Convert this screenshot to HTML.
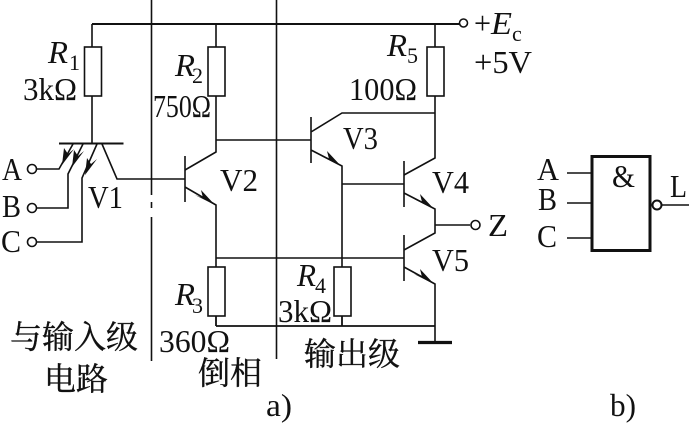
<!DOCTYPE html>
<html><head><meta charset="utf-8"><style>
html,body{margin:0;padding:0;background:#fff}
svg{display:block}
text{font-family:"Liberation Serif","Noto Serif CJK SC",serif;font-size:32px;fill:#111}
.i{font-style:italic}
.s{font-size:22px}
.c{font-size:32px;stroke:#111;stroke-width:.35}
</style></head><body>
<svg width="689" height="424" viewBox="0 0 689 424" xmlns="http://www.w3.org/2000/svg">
<g fill="none" stroke="#111" stroke-width="1.6">
<path d="M151.500 0V195M151.500 202V208M151.500 217V361M276.500 0V359"/>
<path d="M92 24H459" stroke-width="2"/>
<path d="M92 24V47M92 96V143M216 24V47M216 96V152L185 170M435 24V47M435 96V158L404 175"/>
<rect x="84.500" y="47" width="17" height="49"/>
<rect x="208" y="47" width="17" height="49"/>
<rect x="427" y="47" width="17" height="49"/>
<path d="M59 143.500H123.500" stroke-width="2"/>
<path d="M102 144L117 179H185M97 144L82 178V242H37M83 144L68 174V208H37M73 144L59 169H37"/>
<path d="M185 156V202M185 187L216 205V267M216 140H311M311 117V163M311 132L342 113H435M311 150L342 166V267M342 184H404M404 161V207M404 193L435 209V233L404 250M404 235V281M216 258H404M404 267L435 284V343M435 225H470"/>
<rect x="208" y="267" width="17" height="49"/>
<rect x="334" y="267" width="17" height="49"/>
<path d="M216 316V326M342 316V326M216 326H435" stroke-width="1.800"/>
<path d="M418 342.500H452" stroke-width="3.200"/>
<circle cx="463.500" cy="23" r="4"/><circle cx="32" cy="169" r="4.500"/><circle cx="32" cy="208" r="4.500"/><circle cx="32" cy="242" r="4.500"/><circle cx="475.500" cy="225" r="4.500"/>
<rect x="592" y="156.500" width="58" height="94" stroke-width="3"/>
<path d="M567 173H592M567 203H592M567 238H592M662 205H689"/>
<circle cx="657" cy="205" r="4.500" stroke-width="2"/>
</g>
<g fill="#111">
<path d="M215 205l-14-15l2 8l-8-3ZM341 166l-14-15l2 8l-8-3ZM434 209l-14-15l2 8l-8-3ZM434 284l-14-15l2 8l-8-3Z"/>
<path d="M62 165l2-17l4 6l6-5ZM72 167l2-17l4 6l6-5ZM85 175l2-17l4 6l6-5Z"/>
</g>
<g>
<text class="i" x="48" y="63" textLength="20" lengthAdjust="spacingAndGlyphs">R</text><text class="s" x="69" y="70">1</text>
<text x="23" y="100" textLength="54" lengthAdjust="spacingAndGlyphs">3kΩ</text>
<text class="i" x="175" y="76" textLength="20" lengthAdjust="spacingAndGlyphs">R</text><text class="s" x="192" y="83">2</text>
<text x="153" y="117" textLength="58" lengthAdjust="spacingAndGlyphs">750Ω</text>
<text class="i" x="387" y="56" textLength="20" lengthAdjust="spacingAndGlyphs">R</text><text class="s" x="407" y="63">5</text>
<text x="349" y="100" textLength="68" lengthAdjust="spacingAndGlyphs">100Ω</text>
<text x="474" y="34" textLength="17" lengthAdjust="spacingAndGlyphs">+</text><text class="i" x="491" y="34" textLength="21" lengthAdjust="spacingAndGlyphs">E</text><text class="s" x="512" y="41">c</text>
<text x="474" y="73" textLength="58" lengthAdjust="spacingAndGlyphs">+5V</text>
<text x="2" y="180" textLength="20" lengthAdjust="spacingAndGlyphs">A</text><text x="2" y="217" textLength="19" lengthAdjust="spacingAndGlyphs">B</text><text x="1" y="252" textLength="20" lengthAdjust="spacingAndGlyphs">C</text>
<text x="88" y="208" textLength="35" lengthAdjust="spacingAndGlyphs">V1</text>
<text x="220" y="191" textLength="38" lengthAdjust="spacingAndGlyphs">V2</text>
<text x="343" y="149" textLength="35" lengthAdjust="spacingAndGlyphs">V3</text>
<text x="432" y="193" textLength="37" lengthAdjust="spacingAndGlyphs">V4</text>
<text x="432" y="271" textLength="37" lengthAdjust="spacingAndGlyphs">V5</text>
<text x="488" y="236" textLength="20" lengthAdjust="spacingAndGlyphs">Z</text>
<text class="i" x="175" y="305" textLength="20" lengthAdjust="spacingAndGlyphs">R</text><text class="s" x="192" y="313">3</text>
<text x="159" y="352" textLength="71" lengthAdjust="spacingAndGlyphs">360Ω</text>
<text class="i" x="297" y="286" textLength="19" lengthAdjust="spacingAndGlyphs">R</text><text class="s" x="315" y="293">4</text>
<text x="278" y="322" textLength="54" lengthAdjust="spacingAndGlyphs">3kΩ</text>
<text class="c" x="10" y="348">与输入级</text>
<text class="c" x="44" y="390">电路</text>
<text class="c" x="198" y="384">倒相</text>
<text class="c" x="304" y="365">输出级</text>
<text x="266" y="416" textLength="26" lengthAdjust="spacingAndGlyphs">a)</text>
<text x="610" y="416" textLength="26" lengthAdjust="spacingAndGlyphs">b)</text>
<text x="537" y="180" textLength="22" lengthAdjust="spacingAndGlyphs">A</text><text x="538" y="210" textLength="19" lengthAdjust="spacingAndGlyphs">B</text><text x="537" y="247" textLength="20" lengthAdjust="spacingAndGlyphs">C</text>
<text x="612" y="187" textLength="23" lengthAdjust="spacingAndGlyphs">&amp;</text>
<text x="670" y="197" textLength="17" lengthAdjust="spacingAndGlyphs">L</text>
</g>
</svg>
</body></html>
